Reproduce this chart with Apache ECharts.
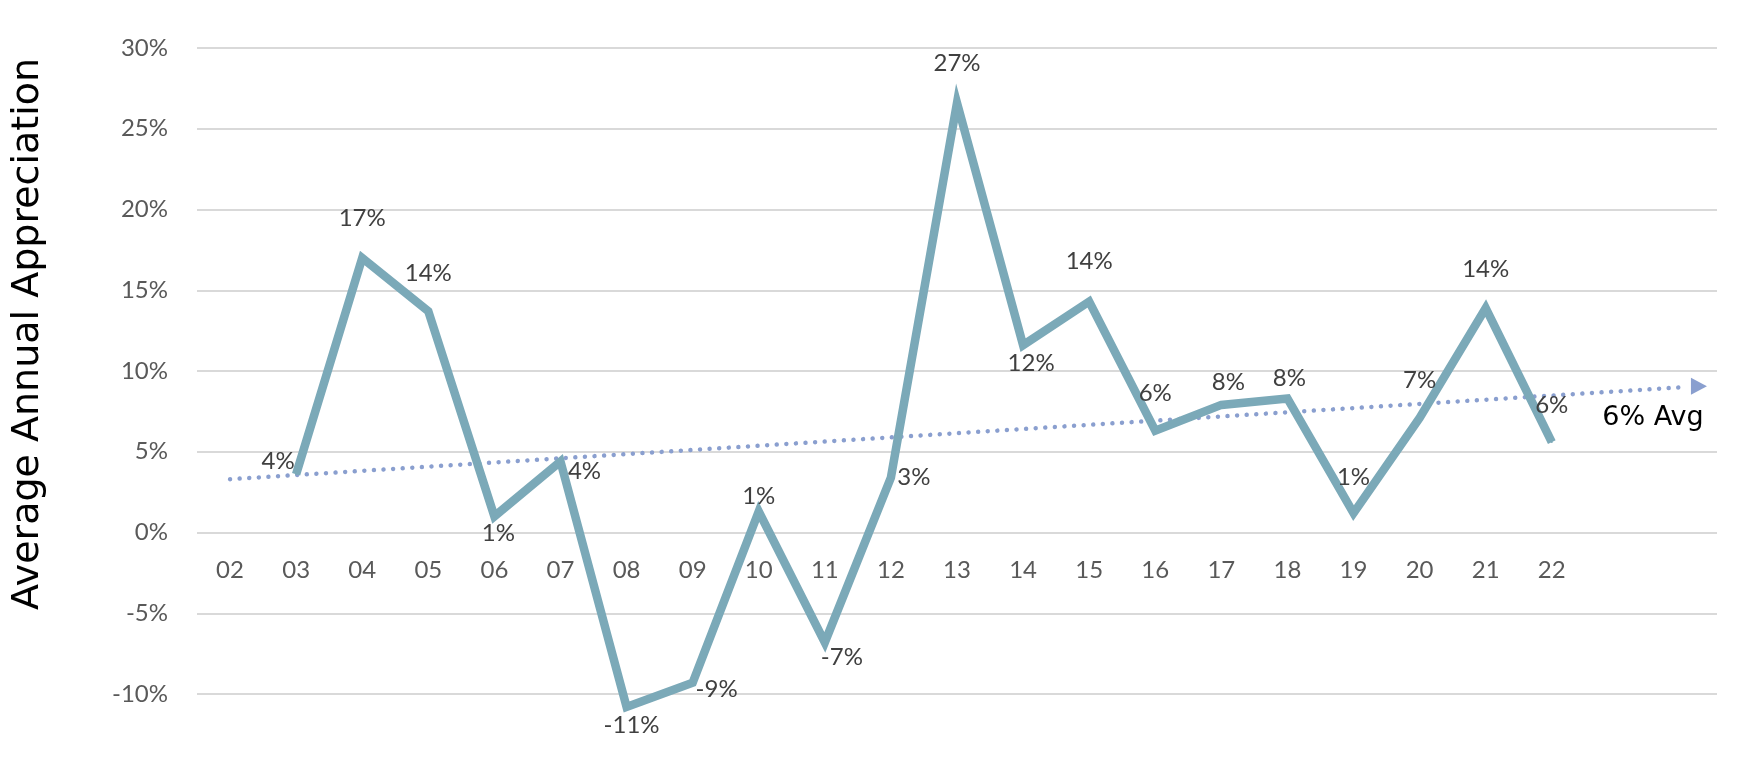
<!DOCTYPE html>
<html>
<head>
<meta charset="utf-8">
<script src="https://cdn.jsdelivr.net/npm/echarts@6/dist/echarts.min.js"></script>
<style>
html,body{margin:0;padding:0;background:#fff;}
#chart{width:1750px;height:783px;}
</style>
</head>
<body>
<div id="chart"></div>
<script>
// ---- data ----
const categories = ['02','03','04','05','06','07','08','09','10','11','12','13','14','15','16','17','18','19','20','21','22','',''];
const appreciation = [null, 3.6, 17.0, 13.7, 1.0, 4.4, -10.8, -9.3, 1.3, -6.8, 3.4, 26.6, 11.6, 14.3, 6.3, 7.9, 8.3, 1.2, 7.1, 13.9, 5.6];
const trendStart = [0, 3.3];
const trendEnd = [22, 9.0];
const avgLabel = '6% Avg';
const yTicks = {min: -10, max: 30, step: 5};
const yTitle = 'Average Annual Appreciation';

// ---- styling (label offsets relative to each point) ----
const labelOffsets = [null,[-18,-13],[0,-40],[0,-38],[4,17],[24,10],[5,18],[24,7],[0,-15],[17,15],[23,0],[0,-40],[8,18],[0,-40],[0,-37],[7,-23],[2,-20],[0,-36],[0,-38],[0,-39],[0,-37]];

const gridTop = 48, gridBottom = 89, chartH = 783;
const plotH = chartH - gridTop - gridBottom;
// place the category labels at the 0% line
const zeroShift = plotH * (0 - yTicks.min) / (yTicks.max - yTicks.min);

const mainData = appreciation.map((v, i) => {
  if (v === null) return '-';
  return {value: v, label: {offset: labelOffsets[i]}};
});

const trendData = [
  {value: trendStart, symbol: 'none'},
  {value: trendEnd, symbol: 'triangle', symbolSize: [17, 16], symbolRotate: -90, symbolOffset: [15, -1],
   label: {show: true, formatter: avgLabel, position: 'inside', offset: [-46, 32],
           color: '#000', fontFamily: 'DejaVu Sans', fontSize: 27}}
];

const chart = echarts.init(document.getElementById('chart'));
chart.setOption({
  animation: false,
  backgroundColor: '#fff',
  grid: {left: 197, right: 33, top: gridTop, bottom: gridBottom},
  xAxis: {
    type: 'category',
    data: categories,
    boundaryGap: true,
    offset: -zeroShift,
    axisLine: {show: false},
    axisTick: {show: false},
    axisLabel: {color: '#595959', fontFamily: 'Lato', fontSize: 24, margin: 26, interval: 0},
    splitLine: {show: false}
  },
  yAxis: {
    type: 'value',
    min: yTicks.min, max: yTicks.max, interval: yTicks.step,
    axisLine: {show: false},
    axisTick: {show: false},
    axisLabel: {color: '#595959', fontFamily: 'Lato', fontSize: 24, margin: 29, formatter: v => v + '%'},
    splitLine: {lineStyle: {color: '#d9d9d9', width: 2}}
  },
  graphic: [{
    type: 'text',
    x: 28, y: 334,
    rotation: Math.PI / 2,
    style: {text: yTitle, fill: '#000', font: '38px "DejaVu Sans"', textAlign: 'center', textVerticalAlign: 'middle'}
  }],
  series: [
    {
      type: 'line',
      data: trendData,
      z: 2,
      clip: false,
      lineStyle: {color: '#8a9fcf', width: 4.5, type: [0.01, 9.6], cap: 'round'},
      itemStyle: {color: '#8a9fcf'},
      symbol: 'none'
    },
    {
      type: 'line',
      data: mainData,
      z: 3,
      clip: false,
      symbol: 'circle',
      symbolSize: 2,
      lineStyle: {color: '#7ba9b8', width: 8.5, join: 'miter'},
      itemStyle: {color: '#7ba9b8'},
      label: {
        show: true,
        position: 'inside',
        color: '#404040',
        fontFamily: 'Lato',
        fontSize: 24,
        formatter: p => Math.round(p.value) + '%'
      }
    }
  ]
});
</script>
</body>
</html>
